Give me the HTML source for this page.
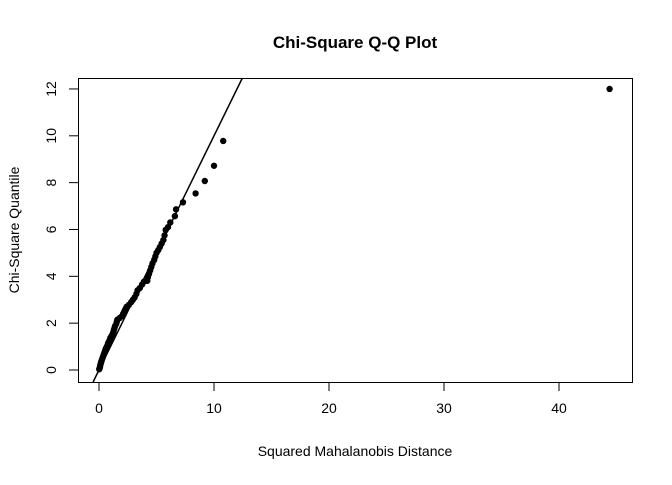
<!DOCTYPE html>
<html><head><meta charset="utf-8"><style>
body{margin:0;background:#fff;}
svg text{font-family:"Liberation Sans",Arial,sans-serif;fill:#000;}
</style></head><body>
<svg id="chart" width="672" height="480" xmlns="http://www.w3.org/2000/svg">
<text x="355" y="48" text-anchor="middle" font-size="17" font-weight="bold">Chi-Square Q-Q Plot</text>
<text x="355" y="456" text-anchor="middle" font-size="14">Squared Mahalanobis Distance</text>
<text transform="translate(19,230) rotate(-90)" text-anchor="middle" font-size="14">Chi-Square Quantile</text>
<rect x="78.5" y="78.5" width="554" height="304" fill="none" stroke="#000" stroke-width="1"/>
<g id="axes"></g>
<g id="marks"></g>
</svg>
<script>
const xTicks=[0,10,20,30,40];
const yTicks=[0,2,4,6,8,10,12];
const distances=[0.02,0.05,0.08,0.1,0.13,0.17,0.2,0.25,0.3,0.35,0.4,0.45,0.5,0.55,0.6,0.68,0.75,0.8,0.88,0.95,1.0,1.1,1.2,1.25,1.3,1.35,1.4,1.5,1.55,1.6,1.8,2.0,2.1,2.2,2.3,2.4,2.6,2.8,2.95,3.1,3.25,3.35,3.55,3.75,3.9,4.2,4.25,4.35,4.45,4.55,4.65,4.8,4.9,5.0,5.15,5.3,5.45,5.6,5.7,5.8,6.0,6.2,6.6,6.7,7.3,8.4,9.2,10.0,10.8,44.4];
const quantiles=[0.03,0.07,0.12,0.18,0.24,0.3,0.36,0.43,0.5,0.57,0.64,0.71,0.78,0.85,0.92,1.0,1.08,1.15,1.22,1.3,1.38,1.46,1.55,1.63,1.72,1.8,1.88,1.97,2.06,2.15,2.22,2.3,2.4,2.5,2.6,2.7,2.78,2.9,3.0,3.1,3.25,3.4,3.5,3.65,3.77,3.81,3.95,4.1,4.25,4.4,4.55,4.7,4.85,5.0,5.12,5.25,5.4,5.55,5.75,5.98,6.1,6.3,6.57,6.86,7.16,7.54,8.07,8.72,9.78,12.0];
const lineIntercept=0, lineSlope=1;
const X0=99,XS=11.5,Y0=370,YS=23.42;
const sx=v=>X0+v*XS, sy=v=>Y0-v*YS;
const NS='http://www.w3.org/2000/svg';
const axes=document.getElementById('axes'), marks=document.getElementById('marks');
function mk(t,a,p){const e=document.createElementNS(NS,t);for(const k in a)e.setAttribute(k,a[k]);p.appendChild(e);return e;}
const xa=mk('line',{x1:sx(0),x2:sx(40),y1:382.5,y2:382.5,stroke:'#000'},axes);


xTicks.forEach(v=>{
 const t=mk('line',{x1:sx(v),x2:sx(v),y1:382,y2:391,stroke:'#000'},axes);
 
 
 const l=mk('text',{x:sx(v),y:413,'text-anchor':'middle','font-size':'14'},axes);l.textContent=v;
 
 
});
const ya=mk('line',{x1:78.5,x2:78.5,y1:sy(0),y2:sy(12),stroke:'#000'},axes);


yTicks.forEach(v=>{
 const t=mk('line',{x1:69,x2:78,y1:sy(v),y2:sy(v),stroke:'#000'},axes);
 
 
 const l=mk('text',{transform:`translate(56,${sy(v)}) rotate(-90)`,'text-anchor':'middle','font-size':'14'},axes);l.textContent=v;
 
 
});
const yBot=-(382-Y0)/YS, yTop=(Y0-78)/YS;
const rl=mk('line',{x1:sx((yBot-lineIntercept)/lineSlope),y1:sy(yBot),x2:sx((yTop-lineIntercept)/lineSlope),y2:sy(yTop),stroke:'#000','stroke-width':'1.5'},marks);


distances.forEach((d,i)=>{
 const c=mk('circle',{cx:sx(d),cy:sy(quantiles[i]),r:3.2,fill:'#000'},marks);
 
 
});
</script>
</body></html>
